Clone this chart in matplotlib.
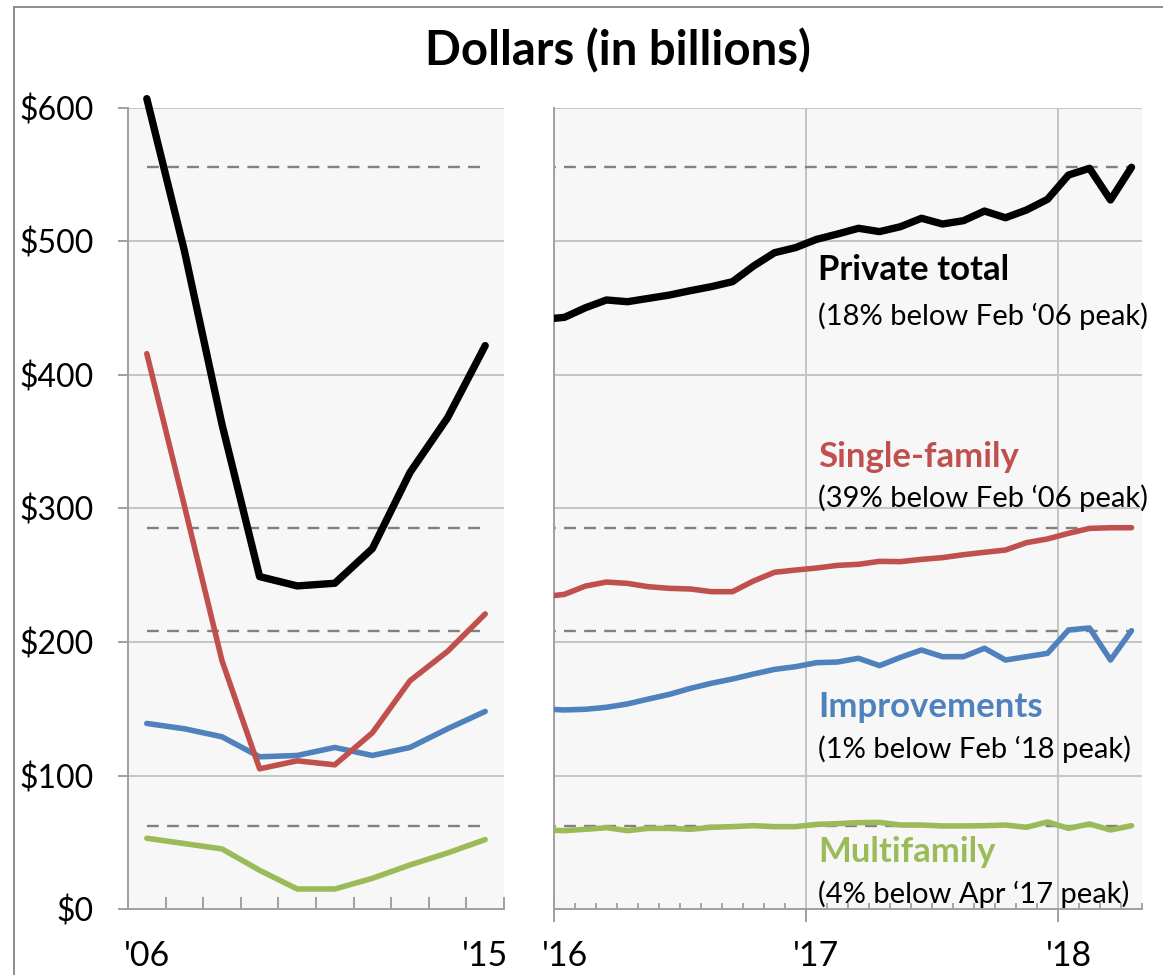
import numpy as np
import matplotlib
matplotlib.use("Agg")
import matplotlib.pyplot as plt

plt.rcParams['font.family'] = ['Lato', 'DejaVu Sans']

# ---------------- data ----------------
years = [2006, 2007, 2008, 2009, 2010, 2011, 2012, 2013, 2014, 2015]
annual_total = [607, 493, 363, 249, 242, 244, 270, 327, 368, 422]
annual_single = [416, 302, 186, 105, 111, 108, 132, 171, 193, 221]
annual_improve = [139, 135, 129, 114, 115, 121, 115, 121, 135, 148]
annual_multi = [53, 49, 45, 29, 15, 15, 23, 33, 42, 52]

months = ['Dec-15',
          'Jan-16', 'Feb-16', 'Mar-16', 'Apr-16', 'May-16', 'Jun-16',
          'Jul-16', 'Aug-16', 'Sep-16', 'Oct-16', 'Nov-16', 'Dec-16',
          'Jan-17', 'Feb-17', 'Mar-17', 'Apr-17', 'May-17', 'Jun-17',
          'Jul-17', 'Aug-17', 'Sep-17', 'Oct-17', 'Nov-17', 'Dec-17',
          'Jan-18', 'Feb-18', 'Mar-18', 'Apr-18']
monthly_total = [441.7, 443.2, 450.4, 456.2, 454.9, 457.4, 459.9, 463.2, 466.2,
                 469.9, 481.6, 491.6, 495.4, 501.6, 505.6, 509.9, 507.4, 511.1,
                 517.4, 513.1, 515.6, 522.8, 517.8, 523.6, 531.6, 549.8, 554.8,
                 531.1, 555.6]
monthly_single = [233.9, 235.7, 241.9, 244.9, 243.9, 241.4, 240.2, 239.7, 237.7,
                  237.7, 245.7, 252.2, 253.9, 255.4, 257.4, 258.2, 260.4, 260.2,
                  261.9, 263.2, 265.4, 267.2, 268.9, 274.4, 277.2, 281.4, 285.1,
                  285.6, 285.6]
monthly_improve = [149.8, 149.1, 149.6, 151.1, 153.6, 157.3, 160.8, 165.3, 169.1,
                   172.3, 176.0, 179.5, 181.5, 184.5, 185.0, 187.8, 182.3, 188.5,
                   194.0, 189.0, 189.0, 195.3, 186.5, 189.0, 191.5, 209.0, 210.5,
                   186.5, 208.5]
monthly_multi = [59.2, 58.7, 59.7, 60.9, 58.7, 60.4, 60.4, 59.7, 61.2, 61.7, 62.4,
                 61.7, 61.7, 63.4, 63.9, 64.7, 64.9, 62.9, 62.9, 62.2, 62.2, 62.4,
                 62.9, 61.2, 65.2, 60.4, 63.7, 59.2, 62.4]

series_names = ['Private total', 'Single-family', 'Improvements', 'Multifamily']
series_notes = ["(18% below Feb \u201806 peak)", "(39% below Feb \u201806 peak)",
                "(1% below Feb \u201818 peak)", "(4% below Apr \u201817 peak)"]
y_ticks = [0, 100, 200, 300, 400, 500, 600]

# ---------------- style ----------------
colors = ['#000000', '#C0504D', '#4F81BD', '#9BBB59']
widths = [5.3, 4.0, 4.0, 4.0]
bg = '#f7f7f7'
gridc = '#c4c4c4'
spinec = '#a0a0a0'
W, H = 1163, 975

fig = plt.figure(figsize=(W / 100, H / 100), dpi=100)


def rect(x0, y0, x1, y1):
    return [x0 / W, 1 - y1 / H, (x1 - x0) / W, (y1 - y0) / H]


axL = fig.add_axes(rect(128, 108, 504, 909))
axR = fig.add_axes(rect(554, 108, 1142, 909))

annual = [annual_total, annual_single, annual_improve, annual_multi]
monthly = [monthly_total, monthly_single, monthly_improve, monthly_multi]

xL = np.arange(len(years))
xR = np.arange(len(months)) - 0.5

for ax in (axL, axR):
    ax.set_facecolor(bg)
    ax.set_ylim(0, 600)
    ax.set_yticks(y_ticks)
    ax.yaxis.grid(True, color=gridc, lw=1.4)
    ax.set_axisbelow(True)
    for s in ('top', 'right'):
        ax.spines[s].set_visible(False)
    for s in ('left', 'bottom'):
        ax.spines[s].set_color(spinec)
        ax.spines[s].set_linewidth(1.4)

# reference dashed lines (current levels)
order = [3, 2, 1, 0]
for i in order:
    lvl = monthly[i][-1]
    axL.plot([xL[0], xL[-1]], [lvl, lvl], color='#808080', lw=1.7,
             dashes=(5, 3.5), zorder=2)
    axR.plot([xR[0], xR[-1]], [lvl, lvl], color='#808080', lw=1.7,
             dashes=(5, 3.5), zorder=2)

for i in order:
    axL.plot(xL, annual[i], color=colors[i], lw=widths[i], clip_on=False,
             solid_joinstyle='round', solid_capstyle='round', zorder=3 + (3 - i))
    axR.plot(xR, monthly[i], color=colors[i], lw=widths[i],
             solid_joinstyle='round', solid_capstyle='round', zorder=3 + (3 - i))

# ---- left axis ticks ----
axL.set_xlim(-0.5, len(years) - 0.5)
axL.set_yticklabels(['$' + str(v) for v in y_ticks])
axL.tick_params(axis='y', direction='out', length=7.5, width=1.4, color=spinec,
                labelsize=23, pad=17)
axL.set_xticks(np.arange(-0.5, len(years), 1))
axL.set_xticklabels([])
axL.tick_params(axis='x', which='major', direction='in', length=8.5, width=1.4,
                color=spinec)
axL.set_xticks([xL[0], xL[-1]], minor=True)
axL.set_xticklabels(["'" + str(years[0])[2:], "'" + str(years[-1])[2:]], minor=True)
axL.tick_params(axis='x', which='minor', length=0, labelsize=24.5, pad=22)

# ---- right axis ticks ----
axR.set_xlim(0, len(months) - 1)
axR.set_yticklabels([])
axR.tick_params(axis='y', length=0)
jan_idx = [k for k, m in enumerate(months) if m.startswith('Jan')]
year_starts = [xR[k] - 0.5 for k in jan_idx]
for xs in year_starts[1:]:
    axR.axvline(xs, color=gridc, lw=1.4, zorder=1)
axR.set_xticks(np.arange(0, len(months)), minor=True)
axR.tick_params(axis='x', which='minor', direction='in', length=4.3, width=1.3,
                color=spinec)
axR.set_xticks([xR[k] for k in jan_idx])
axR.set_xticklabels(["'" + months[k][-2:] for k in jan_idx])
axR.tick_params(axis='x', which='major', length=0, labelsize=24.5, pad=22)
sec = axR.secondary_xaxis('bottom')
sec.set_xticks(year_starts)
sec.set_xticklabels([])
sec.tick_params(direction='inout', length=19, width=1.4, color=spinec)
sec.spines['bottom'].set_visible(False)

# ---- labels ----
label_x = 12.57
label_base = [471.2, 331.1, 143.8, 35.2]
note_base = [437.5, 301.1, 113.1, 4.5]
for i in range(4):
    axR.text(label_x, label_base[i], series_names[i], color=colors[i],
             fontsize=25, fontweight='bold', va='baseline', ha='left', zorder=10)
    axR.text(label_x, note_base[i], series_notes[i], color='black',
             fontsize=21, va='baseline', ha='left', zorder=10)

fig.text(618 / W, 1 - 51 / H, 'Dollars (in billions)', ha='center', va='center',
         fontsize=34, fontweight='bold')

# chart border (top-left corner visible)
fig.add_artist(plt.Line2D([14 / W, 14 / W], [0, 1 - 7 / H], color='#8c8c8c',
                          lw=1.4, transform=fig.transFigure))
fig.add_artist(plt.Line2D([14 / W, 1], [1 - 7 / H, 1 - 7 / H], color='#8c8c8c',
                          lw=1.4, transform=fig.transFigure))

fig.savefig('out.png', dpi=100)
